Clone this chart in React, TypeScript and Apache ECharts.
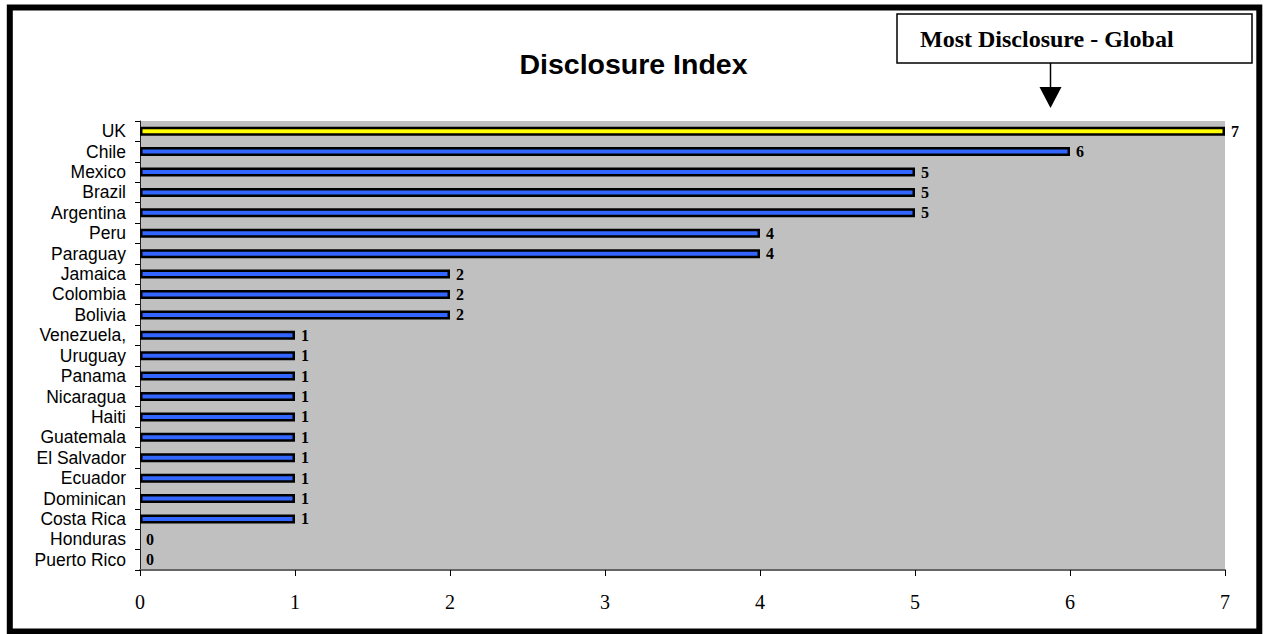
import React, { useEffect, useRef } from "react";
import * as echarts from "echarts";

const countries = [
  "UK", "Chile", "Mexico", "Brazil", "Argentina", "Peru", "Paraguay", "Jamaica",
  "Colombia", "Bolivia", "Venezuela,", "Uruguay", "Panama", "Nicaragua", "Haiti",
  "Guatemala", "El Salvador", "Ecuador", "Dominican", "Costa Rica", "Honduras", "Puerto Rico",
];
const scores = [7, 6, 5, 5, 5, 4, 4, 2, 2, 2, 1, 1, 1, 1, 1, 1, 1, 1, 1, 1, 0, 0];
const highlighted = ["UK"];
const xTicks = [0, 1, 2, 3, 4, 5, 6, 7];
const titleText = "Disclosure Index";
const annotationText = "Most Disclosure - Global";

const SERIF = "'Liberation Serif', 'Times New Roman', serif";
const SANS = "'Liberation Sans', Arial, sans-serif";

export default function App() {
  const ref = useRef<HTMLDivElement>(null);
  useEffect(() => {
    if (!ref.current) return;
    const chart = echarts.init(ref.current, undefined, { renderer: "svg" });
    const data = scores.map((v, i) => ({
      value: v,
      itemStyle: {
        color: highlighted.includes(countries[i]) ? "#ffff00" : "#3366ff",
        borderWidth: v === 0 ? 0 : 2.5,
      },
    }));
    chart.setOption({
      animation: false,
      backgroundColor: "#ffffff",
      title: {
        text: titleText,
        left: "center",
        top: 44,
        textStyle: { fontFamily: SANS, fontWeight: "bold", fontSize: 28.5, color: "#000" },
      },
      grid: {
        left: 140,
        right: 42,
        top: 121,
        bottom: 64,
        show: true,
        backgroundColor: "#c0c0c0",
        borderWidth: 0,
      },
      xAxis: {
        type: "value",
        min: xTicks[0],
        max: xTicks[xTicks.length - 1],
        interval: 1,
        splitLine: { show: false },
        axisLine: { show: true, lineStyle: { color: "#666666", width: 2 } },
        axisTick: { show: true, length: 6, lineStyle: { color: "#000" } },
        axisLabel: { margin: 22, fontFamily: SERIF, fontSize: 20, color: "#000" },
      },
      yAxis: {
        type: "category",
        data: countries,
        inverse: true,
        axisLine: { show: true, lineStyle: { color: "#222", width: 1 } },
        axisTick: { show: true, interval: 0, length: 5, lineStyle: { color: "#000" } },
        axisLabel: { interval: 0, margin: 14, fontFamily: SANS, fontSize: 17.5, color: "#000" },
      },
      series: [
        {
          type: "bar",
          data,
          barWidth: 9,
          itemStyle: { borderColor: "#000", borderWidth: 2.5 },
          label: {
            show: true,
            position: "right",
            distance: 6,
            fontFamily: SERIF,
            fontWeight: "bold",
            fontSize: 16,
            color: "#000",
          },
        },
      ],
      graphic: [
        {
          type: "rect",
          shape: { x: 9.8, y: 7.5, width: 1249.5, height: 624 },
          style: { fill: "none", stroke: "#000", lineWidth: 6 },
          z: 100,
        },
        {
          type: "rect",
          shape: { x: 897, y: 14, width: 355, height: 49 },
          style: { fill: "#fff", stroke: "#000", lineWidth: 1.5 },
          z: 100,
        },
        {
          type: "text",
          x: 920,
          y: 39,
          style: {
            text: annotationText,
            font: `bold 24px ${SERIF}`,
            fill: "#000",
            textVerticalAlign: "middle",
            verticalAlign: "middle",
          },
          z: 101,
        },
        {
          type: "line",
          shape: { x1: 1050.5, y1: 63, x2: 1050.5, y2: 90 },
          style: { stroke: "#000", lineWidth: 1.5 },
          z: 100,
        },
        {
          type: "polygon",
          shape: { points: [[1039.5, 87], [1061.5, 87], [1050.5, 108]] },
          style: { fill: "#000" },
          z: 100,
        },
      ],
    });
    return () => chart.dispose();
  }, []);
  return (
    <div
      ref={ref}
      style={{ position: "fixed", left: 0, top: 0, width: 1267, height: 634 }}
    />
  );
}
